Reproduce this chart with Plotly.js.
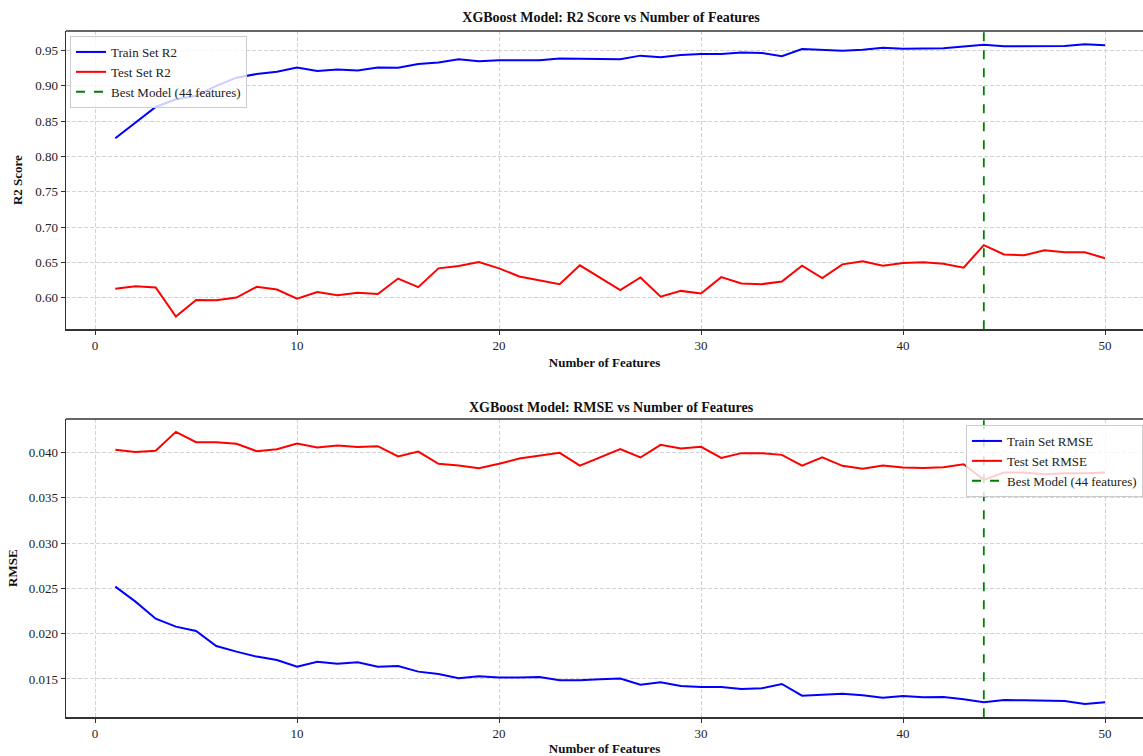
<!DOCTYPE html>
<html>
<head>
<meta charset="utf-8">
<script src="https://cdn.plot.ly/plotly-3.0.1.min.js"></script>
<style>html,body{margin:0;padding:0;background:#fff;}#chart{width:1143px;height:756px;}</style>
</head>
<body>
<div id="chart"></div>
<script>
const numFeatures = [1,2,3,4,5,6,7,8,9,10,11,12,13,14,15,16,17,18,19,20,21,22,23,24,25,26,27,28,29,30,31,32,33,34,35,36,37,38,39,40,41,42,43,44,45,46,47,48,49,50];
const trainR2 = [0.8256,0.848,0.870,0.881,0.886,0.900,0.9115,0.9167,0.920,0.926,0.921,0.923,0.9215,0.926,0.9255,0.931,0.933,0.9375,0.9347,0.936,0.936,0.936,0.9385,0.9385,0.938,0.9375,0.9427,0.9403,0.9436,0.945,0.945,0.947,0.9465,0.942,0.952,0.951,0.9497,0.951,0.954,0.9525,0.953,0.953,0.9555,0.958,0.956,0.956,0.956,0.9565,0.959,0.9575];
const testR2 = [0.6124,0.6162,0.6143,0.5733,0.5967,0.5962,0.600,0.6152,0.6114,0.5986,0.608,0.6033,0.607,0.605,0.627,0.6148,0.6414,0.6448,0.6505,0.6414,0.630,0.6243,0.619,0.6457,0.628,0.6105,0.6286,0.6014,0.6095,0.6057,0.629,0.620,0.619,0.6229,0.6452,0.6276,0.6471,0.6514,0.6452,0.649,0.650,0.648,0.6424,0.6743,0.661,0.660,0.667,0.6643,0.6643,0.6557];
const trainRMSE = [0.0252,0.02354,0.02166,0.02078,0.0203,0.01864,0.01802,0.01747,0.0171,0.01636,0.01691,0.01669,0.01684,0.01636,0.01644,0.01581,0.01555,0.01507,0.0153,0.01515,0.01515,0.01522,0.01485,0.01485,0.01496,0.01504,0.01437,0.01463,0.01423,0.01412,0.01412,0.0139,0.01397,0.01445,0.01316,0.01323,0.01338,0.0132,0.01294,0.01312,0.01298,0.01301,0.01276,0.01242,0.01268,0.01264,0.01264,0.01257,0.01224,0.01242];
const testRMSE = [0.0403,0.04007,0.0402,0.04228,0.04114,0.04114,0.04096,0.04015,0.04037,0.0410,0.04055,0.04077,0.0406,0.0407,0.03956,0.0401,0.03875,0.03856,0.03827,0.03875,0.03934,0.03967,0.03996,0.03856,0.03948,0.04037,0.03945,0.04085,0.04044,0.04063,0.03941,0.03993,0.03993,0.03974,0.03856,0.03948,0.03853,0.0382,0.03856,0.03834,0.0383,0.03838,0.0387,0.03698,0.0378,0.0378,0.0376,0.0377,0.0377,0.0378];
const bestK = 44;
const titleR2 = "XGBoost Model: R2 Score vs Number of Features";
const titleRMSE = "XGBoost Model: RMSE vs Number of Features";
const xLabel = "Number of Features";
const bestLabel = "Best Model (" + bestK + " features)";

const W = 1143, H = 756;
const FONT = "Liberation Serif, Times New Roman, serif";
const BLUE = "#0000ff", RED = "#ff0000", GREEN = "#008000";
const AX = "#333333";
const GRID = "#d3d3d3";

const traces = [
  {x: numFeatures, y: trainR2, type: "scatter", mode: "lines", name: "Train Set R2", line: {color: BLUE, width: 2}, xaxis: "x", yaxis: "y", legend: "legend"},
  {x: numFeatures, y: testR2, type: "scatter", mode: "lines", name: "Test Set R2", line: {color: RED, width: 2}, xaxis: "x", yaxis: "y", legend: "legend"},
  {x: numFeatures, y: trainRMSE, type: "scatter", mode: "lines", name: "Train Set RMSE", line: {color: BLUE, width: 2}, xaxis: "x2", yaxis: "y2", legend: "legend2"},
  {x: numFeatures, y: testRMSE, type: "scatter", mode: "lines", name: "Test Set RMSE", line: {color: RED, width: 2}, xaxis: "x2", yaxis: "y2", legend: "legend2"}
];

const xDom = [66 / W, 1];
const topDom = [1 - 329.3 / H, 1 - 31 / H];
const botDom = [1 - 717.3 / H, 1 - 419 / H];

function xAxis(anchor, standoff) {
  return {
    domain: xDom, anchor: anchor, range: [-1.44, 51.88], dtick: 10, tick0: 0,
    showgrid: true, gridcolor: GRID, griddash: "4px,2px", gridwidth: 1,
    zeroline: false, showline: true, linecolor: AX, linewidth: 1.3,
    ticks: "outside", ticklen: 4, tickcolor: AX,
    tickfont: {family: FONT, size: 13, color: "#222"},
    title: {text: xLabel, font: {family: FONT, size: 13, color: "#111", weight: "bold"}, standoff: standoff},
    automargin: false
  };
}
function yAxis(anchor, dom, range, dtick, fmt, label, standoff) {
  return {
    domain: dom, anchor: anchor, range: range, dtick: dtick, tickformat: fmt,
    showgrid: true, gridcolor: GRID, griddash: "4px,2px", gridwidth: 1,
    zeroline: false, showline: true, linecolor: AX, linewidth: 1.3,
    ticks: "outside", ticklen: 4, tickcolor: AX,
    tickfont: {family: FONT, size: 13, color: "#222"},
    title: {text: label, font: {family: FONT, size: 13, color: "#111", weight: "bold"}, standoff: standoff},
    automargin: false
  };
}

const legendStyle = {
  bgcolor: "rgba(255,255,255,0.8)", bordercolor: "#cccccc", borderwidth: 1,
  font: {family: FONT, size: 13, color: "#222"}, tracegroupgap: 0, itemwidth: 30
};

const layout = {
  width: W, height: H,
  margin: {l: 0, r: 0, t: 0, b: 0},
  paper_bgcolor: "#ffffff", plot_bgcolor: "#ffffff",
  title: {text: titleR2, font: {family: FONT, size: 14, color: "#111", weight: "bold"}, x: 611 / W, xanchor: "center", xref: "container", y: 1 - 17 / H, yref: "container", yanchor: "middle"},
  xaxis: xAxis("y", 5),
  yaxis: yAxis("x", topDom, [0.5551, 0.9776], 0.05, ".2f", "R2 Score", 9),
  xaxis2: xAxis("y2", 8),
  yaxis2: yAxis("x2", botDom, [0.01077, 0.0437], 0.005, ".3f", "RMSE", 8),
  legend: Object.assign({x: 70 / W, y: 1 - 36 / H, xanchor: "left", yanchor: "top"}, legendStyle),
  legend2: Object.assign({x: 1, y: 1 - 425 / H, xanchor: "right", yanchor: "top"}, legendStyle),
  annotations: [
    {text: titleRMSE, xref: "paper", yref: "paper", x: 611 / W, y: 1 - 407 / H, xanchor: "center", yanchor: "middle", showarrow: false, font: {family: FONT, size: 14, color: "#111", weight: "bold"}}
  ],
  shapes: [
    {type: "line", xref: "x", yref: "y domain", x0: bestK, x1: bestK, y0: 0, y1: 1, line: {color: GREEN, width: 1.8, dash: "dash"}, showlegend: true, name: bestLabel, legend: "legend"},
    {type: "line", xref: "x2", yref: "y2 domain", x0: bestK, x1: bestK, y0: 0, y1: 1, line: {color: GREEN, width: 1.8, dash: "dash"}, showlegend: true, name: bestLabel, legend: "legend2"},
    {type: "line", xref: "x domain", yref: "y domain", x0: 0, x1: 1, y0: 1, y1: 1, line: {color: AX, width: 1.3}},
    {type: "line", xref: "x2 domain", yref: "y2 domain", x0: 0, x1: 1, y0: 1, y1: 1, line: {color: AX, width: 1.3}}
  ]
};

Plotly.newPlot("chart", traces, layout, {displayModeBar: false, staticPlot: true});
</script>
</body>
</html>
